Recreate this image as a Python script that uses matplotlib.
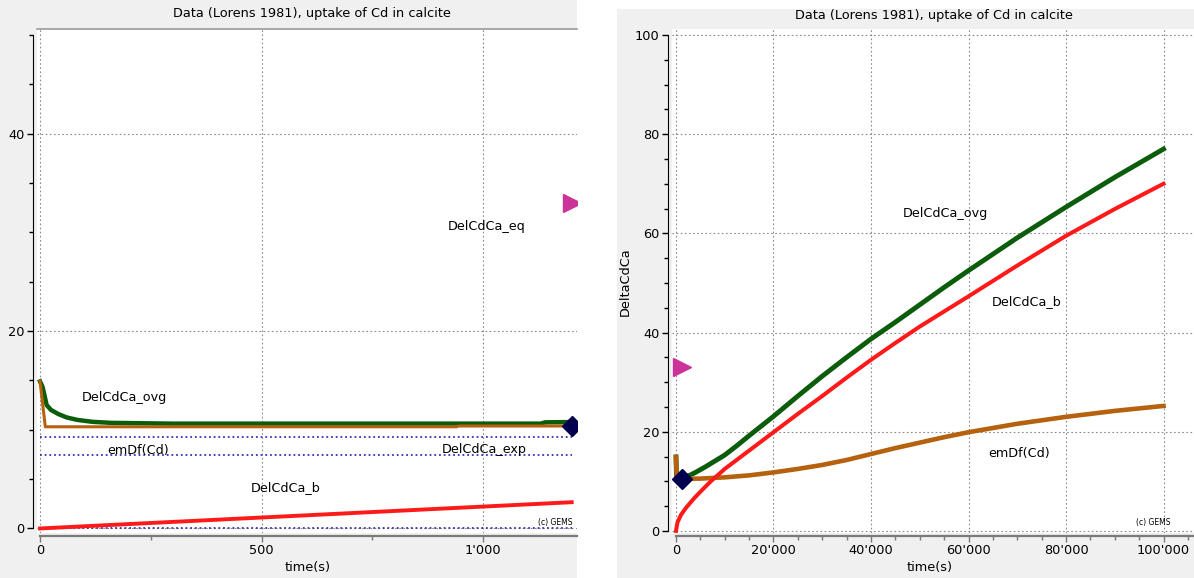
import matplotlib
matplotlib.use("Agg")
import matplotlib.pyplot as plt
from matplotlib.ticker import MultipleLocator, FuncFormatter
from matplotlib.patches import Rectangle

plt.rcParams['font.family'] = ['DejaVu Sans']

W, H = 1194, 578

TITLE = "Data (Lorens 1981), uptake of Cd in calcite"
XLABEL = "time(s)"
YLABEL_R = "DeltaCdCa"
COPY = "(c) GEMS"

# ---------------- left panel data (0 - 1200 s) ----------------
t_ovg_L = [0, 6, 15, 25, 41, 60, 84, 119, 160, 300, 1130, 1140, 1200]
ovg_L = [14.9, 14.3, 12.5, 12.0, 11.6, 11.25, 11.0, 10.8, 10.7, 10.62, 10.62, 10.75, 10.78]
t_emdf_L = [0, 12, 940, 945, 1200]
emdf_L = [14.9, 10.3, 10.3, 10.38, 10.38]
t_b_L = [0, 1200]
b_L = [0.0, 2.66]
ref_levels_L = [9.3, 7.45, 0.0]
ref_span_L = [0, 1200]

# ---------------- right panel data (0 - 100000 s) ----------------
t_ovg_R = [0, 100, 1200, 2000, 3000, 4000, 6000, 8000, 10000, 12500, 15000,
           20000, 25000, 30000, 35000, 40000, 45000, 50000, 55000, 60000,
           70000, 80000, 90000, 100000]
ovg_R = [14.9, 11.2, 10.8, 10.95, 11.3, 11.8, 12.9, 14.1, 15.3, 17.2, 19.2,
         23.1, 27.2, 31.2, 35.0, 38.7, 42.1, 45.6, 49.1, 52.5,
         59.1, 65.3, 71.3, 77.0]
t_b_R = [0, 300, 1000, 2000, 3740, 5500, 7140, 10000, 15000, 20000, 25000,
         30000, 35000, 40000, 45000, 50000, 60000, 70000, 80000, 90000, 100000]
b_R = [0.0, 1.7, 3.2, 4.6, 6.6, 8.4, 10.0, 12.5, 16.2, 19.9, 23.6,
       27.2, 30.9, 34.5, 37.9, 41.2, 47.3, 53.5, 59.5, 64.9, 70.0]
t_emdf_R = [0, 150, 1400, 5000, 10000, 15000, 20000, 25000, 30000, 35000,
            40000, 45000, 50000, 55000, 60000, 70000, 80000, 90000, 100000]
emdf_R = [14.9, 10.5, 10.5, 10.55, 10.8, 11.2, 11.8, 12.5, 13.3, 14.3,
          15.5, 16.7, 17.8, 18.9, 19.9, 21.6, 23.0, 24.2, 25.2]

# experimental / equilibrium points (both panels)
t_exp = [1200]
exp_val = [10.4]
t_eq = [1200]
eq_val = [33.0]

GREEN = '#0b5c0b'
RED = '#ff1a1a'
BROWN = '#b5610d'
MAGENTA = '#cc3399'
NAVY = '#00004e'
BLUE = '#3434b4'
GRIDC = '#8a8a8a'
PANEL = '#f0f0f0'


def fmt(v, p):
    return f"{int(round(v)):,}".replace(",", "'")


fig = plt.figure(figsize=(W / 100, H / 100), dpi=100, facecolor='white')
fig.patches.append(Rectangle((0, 0), 577 / W, 1, transform=fig.transFigure,
                             facecolor=PANEL, edgecolor='none', zorder=-10))
fig.patches.append(Rectangle((617 / W, 0), (W - 617) / W, (H - 9) / H,
                             transform=fig.transFigure, facecolor=PANEL,
                             edgecolor='none', zorder=-10))

ax1 = fig.add_axes([37 / W, (H - 533) / H, 540 / W, 504 / H])
ax2 = fig.add_axes([672 / W, (H - 533) / H, 522 / W, 504 / H])


def style(ax, xmaj, xmin, ymaj, ymin, ytop, xright, top_line):
    ax.set_facecolor('white')
    ax.spines['right'].set_visible(False)
    if top_line:
        ax.spines['top'].set_color('#9a9a9a')
        ax.spines['top'].set_linewidth(1.2)
    else:
        ax.spines['top'].set_visible(False)
    ax.spines['left'].set_position(('outward', 2.9))
    ax.spines['left'].set_bounds(0, ytop)
    ax.spines['left'].set_color('black')
    ax.spines['bottom'].set_position(('outward', 2.3))
    ax.spines['bottom'].set_bounds(0, xright)
    ax.spines['bottom'].set_color('#7a7a7a')
    ax.spines['bottom'].set_linewidth(1.6)
    ax.xaxis.set_major_locator(MultipleLocator(xmaj))
    ax.xaxis.set_minor_locator(MultipleLocator(xmin))
    ax.yaxis.set_major_locator(MultipleLocator(ymaj))
    ax.yaxis.set_minor_locator(MultipleLocator(ymin))
    ax.xaxis.set_major_formatter(FuncFormatter(fmt))
    ax.yaxis.set_major_formatter(FuncFormatter(fmt))
    ax.tick_params(axis='both', which='major', labelsize=9.3, length=4, width=1,
                   direction='out')
    ax.tick_params(axis='both', which='minor', length=3.2, width=1, direction='out')
    ax.tick_params(axis='y', which='both', color='black', pad=2)
    ax.tick_params(axis='x', which='both', color='#7a7a7a', pad=1.5)
    ax.grid(True, which='major', color=GRIDC, linestyle=(0, (1.5, 2.2)),
            linewidth=0.8)
    ax.set_axisbelow(True)


# ---------------- left panel ----------------
ax1.set_xlim(-6.8, 1212)
ax1.set_ylim(-0.46, 50.6)
style(ax1, 500, 250, 20, 5, 50, 1212, True)
for lvl in ref_levels_L:
    ax1.plot(ref_span_L, [lvl, lvl], color=BLUE, linestyle=(0, (1, 1.6)),
             linewidth=1.3, zorder=2)
ax1.plot(t_ovg_L, ovg_L, color=GREEN, linewidth=3.2, zorder=3)
ax1.plot(t_emdf_L, emdf_L, color=BROWN, linewidth=2.2, zorder=4)
ax1.plot(t_b_L, b_L, color=RED, linewidth=2.8, zorder=5)
ax1.plot(t_eq, eq_val, linestyle='none', marker='>', markersize=13,
         color=MAGENTA, zorder=6)
ax1.plot(t_exp, exp_val, linestyle='none', marker='D', markersize=10,
         color=NAVY, zorder=7)

lab_kw = dict(ha='center', va='center', fontsize=9.2, color='black', zorder=8)
ax1.text(190, 13.3, "DelCdCa_ovg", **lab_kw)
ax1.text(222, 7.9, "emDf(Cd)", **lab_kw)
ax1.text(555, 4.15, "DelCdCa_b", **lab_kw)
ax1.text(1009, 30.6, "DelCdCa_eq", **lab_kw)
ax1.text(1002, 7.95, "DelCdCa_exp", **lab_kw)

# ---------------- right panel ----------------
ax2.set_xlim(-820, 106256)
ax2.set_ylim(-0.42, 101.2)
style(ax2, 20000, 5000, 20, 5, 100, 106256, False)
ax2.plot(t_ovg_R, ovg_R, color=GREEN, linewidth=3.5, zorder=3)
ax2.plot(t_emdf_R, emdf_R, color=BROWN, linewidth=3.3, zorder=4)
ax2.plot(t_b_R, b_R, color=RED, linewidth=2.9, zorder=5)
ax2.plot(t_eq, eq_val, linestyle='none', marker='>', markersize=13,
         color=MAGENTA, zorder=6)
ax2.plot(t_exp, exp_val, linestyle='none', marker='D', markersize=10,
         color=NAVY, zorder=7)
ax2.text(55280, 64.1, "DelCdCa_ovg", **lab_kw)
ax2.text(71940, 46.25, "DelCdCa_b", **lab_kw)
ax2.text(70360, 15.7, "emDf(Cd)", **lab_kw)

# ---------------- titles, axis labels, copyright ----------------
fig.text(312 / W, 1 - 14 / H, TITLE, ha='center', va='center', fontsize=9.3)
fig.text(934 / W, 1 - 16 / H, TITLE, ha='center', va='center', fontsize=9.3)
fig.text(308 / W, 1 - 568 / H, XLABEL, ha='center', va='center', fontsize=9.3)
fig.text(930 / W, 1 - 568 / H, XLABEL, ha='center', va='center', fontsize=9.3)
fig.text(625 / W, 1 - 282 / H, YLABEL_R, ha='center', va='center', rotation=90,
         fontsize=9.3)
fig.text(555 / W, 1 - 523 / H, COPY, ha='center', va='center', fontsize=5.5)
fig.text(1153 / W, 1 - 523 / H, COPY, ha='center', va='center', fontsize=5.5)

fig.savefig("out.png", dpi=100, facecolor='white')
